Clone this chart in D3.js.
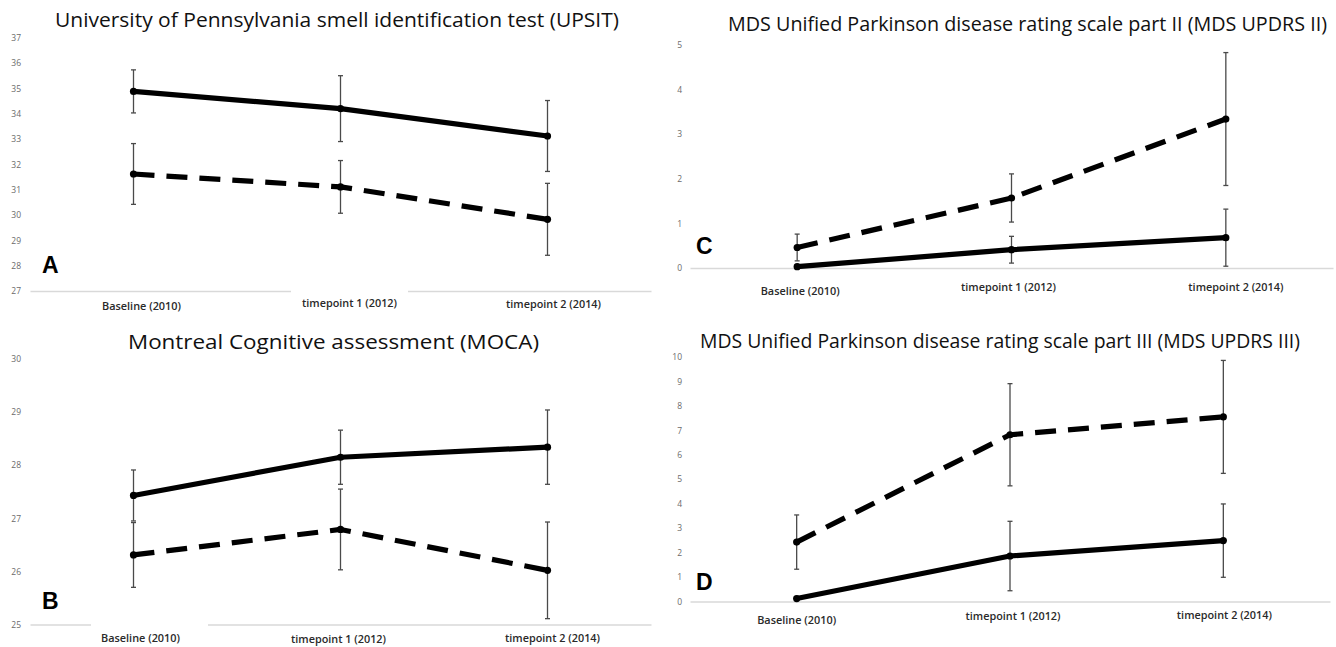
<!DOCTYPE html>
<html><head><meta charset="utf-8">
<script src="https://cdn.jsdelivr.net/npm/d3@7"></script>
<style>body{margin:0;background:#fff} svg{display:block}</style>
</head><body><svg id="chart" width="1336" height="647"></svg>
<script>
// ---------- data ----------
const categories = ["Baseline (2010)", "timepoint 1 (2012)", "timepoint 2 (2014)"];

const upsitTitle = "University of Pennsylvania smell identification test (UPSIT)";
const upsitTicks = [27, 28, 29, 30, 31, 32, 33, 34, 35, 36, 37];
const upsitSolid = [34.88, 34.2, 33.12];
const upsitSolidErr = [0.85, 1.3, 1.4];
const upsitDashed = [31.62, 31.11, 29.83];
const upsitDashedErr = [1.2, 1.04, 1.42];

const mocaTitle = "Montreal Cognitive assessment (MOCA)";
const mocaTicks = [25, 26, 27, 28, 29, 30];
const mocaSolid = [27.43, 28.15, 28.34];
const mocaSolidErr = [0.48, 0.51, 0.7];
const mocaDashed = [26.31, 26.79, 26.02];
const mocaDashedErr = [0.61, 0.76, 0.91];

const updrs2Title = "MDS Unified Parkinson disease rating scale part II (MDS UPDRS II)";
const updrs2Ticks = [0, 1, 2, 3, 4, 5];
const updrs2Solid = [0.03, 0.41, 0.68];
const updrs2SolidErr = [0, 0.3, 0.64];
const updrs2Dashed = [0.46, 1.57, 3.34];
const updrs2DashedErr = [0.3, 0.54, 1.49];

const updrs3Title = "MDS Unified Parkinson disease rating scale part III (MDS UPDRS III)";
const updrs3Ticks = [0, 1, 2, 3, 4, 5, 6, 7, 8, 9, 10];
const updrs3Solid = [0.12, 1.86, 2.49];
const updrs3SolidErr = [0, 1.42, 1.5];
const updrs3Dashed = [2.43, 6.82, 7.55];
const updrs3DashedErr = [1.11, 2.09, 2.31];

// ---------- layout ----------
const labelWidths = [79, 95, 95];
const panels = [
  {letter:"A", title:upsitTitle, ticks:upsitTicks, solid:upsitSolid, solidErr:upsitSolidErr, dashed:upsitDashed, dashedErr:upsitDashedErr,
   xr:[30,651], yr:[291,37.7], yAxisX:21, titleX:[55,619], titleY:27, letterPos:[42,273],
   labelDx:[8,9,6], labelY:[310,307,308], gaps:[[291,408]]},
  {letter:"B", title:mocaTitle, ticks:mocaTicks, solid:mocaSolid, solidErr:mocaSolidErr, dashed:mocaDashed, dashedErr:mocaDashedErr,
   xr:[30,651], yr:[624.5,359], yAxisX:21, titleX:[128,539], titleY:349, letterPos:[42,609],
   labelDx:[7,-2,5], labelY:[642,643,642], gaps:[[91,208]]},
  {letter:"C", title:updrs2Title, ticks:updrs2Ticks, solid:updrs2Solid, solidErr:updrs2SolidErr, dashed:updrs2Dashed, dashedErr:updrs2DashedErr,
   xr:[690,1333], yr:[268,45], yAxisX:682, titleX:[728,1327], titleY:31, letterPos:[696,254],
   labelDx:[3,-3,10], labelY:[295,291,291], gaps:[]},
  {letter:"D", title:updrs3Title, ticks:updrs3Ticks, solid:updrs3Solid, solidErr:updrs3SolidErr, dashed:updrs3Dashed, dashedErr:updrs3DashedErr,
   xr:[690,1330], yr:[601.5,357], yAxisX:682, titleX:[700,1300], titleY:348, letterPos:[696,590],
   labelDx:[0,3,1], labelY:[624,620,619], gaps:[]}
];

const svg = d3.select("#chart");
const font = "'Open Sans', Lato, sans-serif";

panels.forEach(p => {
  const g = svg.append("g");
  const x = d3.scalePoint().domain(categories).range(p.xr).padding(0.5);
  const y = d3.scaleLinear().domain(d3.extent(p.ticks)).range(p.yr);

  // x axis line
  const xa = g.append("g").attr("transform", `translate(0,${y(p.ticks[0])})`)
    .call(d3.axisBottom(x).tickSize(0).tickSizeOuter(0).tickFormat(""));
  xa.select(".domain").attr("stroke", "#d9d9d9").attr("stroke-width", 1.6);
  p.gaps.forEach(gp => g.append("rect").attr("x", gp[0]).attr("width", gp[1]-gp[0])
    .attr("y", y(p.ticks[0]) - 2).attr("height", 4).attr("fill", "#fff"));

  // y axis labels
  const ya = g.append("g").attr("transform", `translate(${p.yAxisX},0)`)
    .call(d3.axisLeft(y).tickValues(p.ticks).tickSize(0).tickPadding(0).tickFormat(d3.format("d")));
  ya.select(".domain").remove();
  ya.selectAll("text").attr("fill", "#6b6b6b").attr("font-size", 8.5)
    .attr("font-family", font);

  // category labels
  categories.forEach((c, i) => {
    g.append("text").attr("x", x(c) + p.labelDx[i]).attr("y", p.labelY[i])
      .attr("text-anchor", "middle").attr("font-size", 11).attr("font-weight", 600)
      .attr("textLength", labelWidths[i]).attr("lengthAdjust", "spacingAndGlyphs")
      .attr("font-family", font).attr("fill", "#2a2a2a").text(c);
  });

  // title
  g.append("text").attr("x", p.titleX[0]).attr("y", p.titleY)
    .attr("font-size", 20).attr("font-family", font).attr("fill", "#111")
    .attr("textLength", p.titleX[1] - p.titleX[0]).attr("lengthAdjust", "spacingAndGlyphs")
    .text(p.title);

  // panel letter
  g.append("text").attr("x", p.letterPos[0]).attr("y", p.letterPos[1])
    .attr("font-size", 23).attr("font-weight", "bold")
    .attr("font-family", "'Liberation Sans', Arial, sans-serif").attr("fill", "#000").text(p.letter);

  const series = [
    {vals:p.dashed, err:p.dashedErr, dash:"21,12"},
    {vals:p.solid, err:p.solidErr, dash:null}
  ];
  series.forEach(s => {
    // error bars
    s.vals.forEach((v, i) => {
      const e = s.err[i];
      if (!e) return;
      const cx = x(categories[i]);
      const eg = g.append("g").attr("stroke", "#4a4a4a").attr("stroke-width", 1.3);
      eg.append("line").attr("x1", cx).attr("x2", cx).attr("y1", y(v - e)).attr("y2", y(v + e));
      [v - e, v + e].forEach(t => eg.append("line").attr("x1", cx - 2.5).attr("x2", cx + 2.5)
        .attr("y1", y(t)).attr("y2", y(t)));
    });
    const line = d3.line().x((d, i) => x(categories[i])).y(d => y(d));
    g.append("path").datum(s.vals).attr("d", line).attr("fill", "none")
      .attr("stroke", "#000").attr("stroke-width", 5.2).attr("stroke-linejoin", "round")
      .attr("stroke-dasharray", s.dash);
    g.selectAll(null).data(s.vals).enter().append("circle")
      .attr("cx", (d, i) => x(categories[i])).attr("cy", d => y(d)).attr("r", 3.6).attr("fill", "#000");
  });
});
</script>
</body></html>
